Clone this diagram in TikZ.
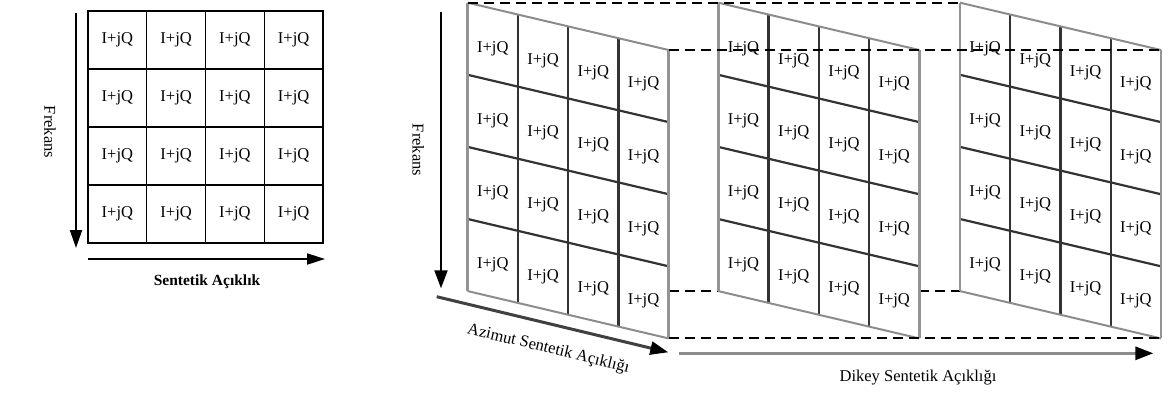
\documentclass[tikz,border=0pt]{standalone}
\usepackage{fontspec}
\setmainfont{Liberation Serif}
\usetikzlibrary{arrows.meta}
\begin{document}
\begin{tikzpicture}[x=1pt,y=-1pt,
  txt/.style={font=\fontsize{16.5}{18}\selectfont, inner sep=0pt},
  cell/.style={txt, draw=black, line width=1.3pt, minimum width=58.75pt, minimum height=58pt},
  arr/.style={line width=2pt, -{Triangle[length=18pt,width=12pt]}},
  edgeo/.style={draw=black!42, line width=2.6pt},
  edgetb/.style={draw=black!45, line width=2pt},
  inner/.style={draw=black!80, line width=2.2pt},
  dsh/.style={draw=black, line width=2pt, dash pattern=on 10pt off 6pt},
]
\useasboundingbox (0,0) rectangle (1168,392);

% ---------- left grid ----------
\foreach \r in {0,...,3}{
  \foreach \c in {0,...,3}{
    \pgfmathsetmacro{\cx}{88+(\c+0.5)*58.75}
    \pgfmathsetmacro{\cy}{11+(\r+0.5)*58}
    \node[cell] (L-\r-\c) at (\cx,\cy) {I+jQ};
  }
}
\coordinate (lva) at (76,13);
\coordinate (lvb) at (76,248);
\draw[arr] (lva) -- (lvb);
\coordinate (lha) at (88,259);
\coordinate (lhb) at (325,259);
\draw[arr, -{Triangle[length=18pt,width=11pt]}] (lha) -- (lhb);
\node[txt, rotate=-90] (lfrek) at (50,132) {Frekans};
\node[txt, font=\fontsize{15.5}{18}\selectfont\bfseries] (lsa) at (207,282) {Sentetik Açıklık};

% ---------- right panels ----------
\foreach \px [count=\k] in {467.7,718.3,960}{
  \foreach \c in {0,...,4}{
    \foreach \r in {0,...,4}{
      \pgfmathsetmacro{\gx}{\px+\c*50.25}
      \pgfmathsetmacro{\gy}{2.7+\c*11.83+\r*72.1}
      \coordinate (P\k-\c-\r) at (\gx,\gy);
    }
  }
  \fill[white] (P\k-0-0) -- (P\k-4-0) -- (P\k-4-4) -- (P\k-0-4) -- cycle;
}

% hidden dashed line (bottom-left level), visible only in the gaps
\coordinate (g1a) at (P1-4-4 |- P2-0-4);
\coordinate (g2a) at (P2-4-4 |- P3-0-4);
\draw[dsh] (g1a) -- (P2-0-4);
\draw[dsh] (g2a) -- (P3-0-4);

\foreach \k in {1,2,3}{
  % inner horizontal lines
  \foreach \r in {1,2,3}{
    \draw[inner] (P\k-0-\r) -- (P\k-4-\r);
  }
  % inner vertical lines
  \foreach \c in {1,2,3}{
    \draw[inner] (P\k-\c-0) -- (P\k-\c-4);
  }
  % top and bottom edges
  \draw[edgetb] (P\k-0-0) -- (P\k-4-0);
  \draw[edgetb] (P\k-0-4) -- (P\k-4-4);
  % left and right edges
  \draw[edgeo] (P\k-0-0) -- (P\k-0-4);
  \draw[edgeo] (P\k-4-0) -- (P\k-4-4);
  % labels
  \foreach \c in {0,...,3}{
    \foreach \r in {0,...,3}{
      \path (P\k-\c-\r) -- (P\k-\c-\r) node[txt, xshift=25.1pt, yshift=-46pt] (T\k-\r-\c) {I+jQ};
    }
  }
}

% dashed guide lines
\draw[dsh] (P1-0-0) -- (P3-0-0);
\draw[dsh] (P1-4-0) -- (P3-4-0);
\draw[dsh] (P1-4-4) -- (P3-4-4);

% Frekans arrow (right)
\coordinate (rva) at (441,11.7);
\coordinate (rvb) at (441,288.3);
\draw[arr, -{Triangle[length=18pt,width=13pt]}] (rva) -- (rvb);
\node[txt, rotate=-90] (rfrek) at (418.3,150) {Frekans};

% Azimut arrow
\coordinate (aza) at (436.7,296.7);
\coordinate (azb) at (668.3,352.3);
\draw[line width=3pt, draw=black!75, -{Triangle[length=18pt,width=13pt,color=black]}] (aza) -- (azb);
\node[txt, rotate=-13.5] (azl) at (548.3,349) {Azimut Sentetik Açıklığı};

% Dikey arrow
\coordinate (dka) at (679.3,353.3);
\coordinate (dkb) at (1153.3,353.3);
\draw[line width=3pt, draw=black!45, -{Triangle[length=18pt,width=13pt,color=black]}] (dka) -- (dkb);
\node[txt] (dkl) at (918,377.3) {Dikey Sentetik Açıklığı};
\end{tikzpicture}
\end{document}
